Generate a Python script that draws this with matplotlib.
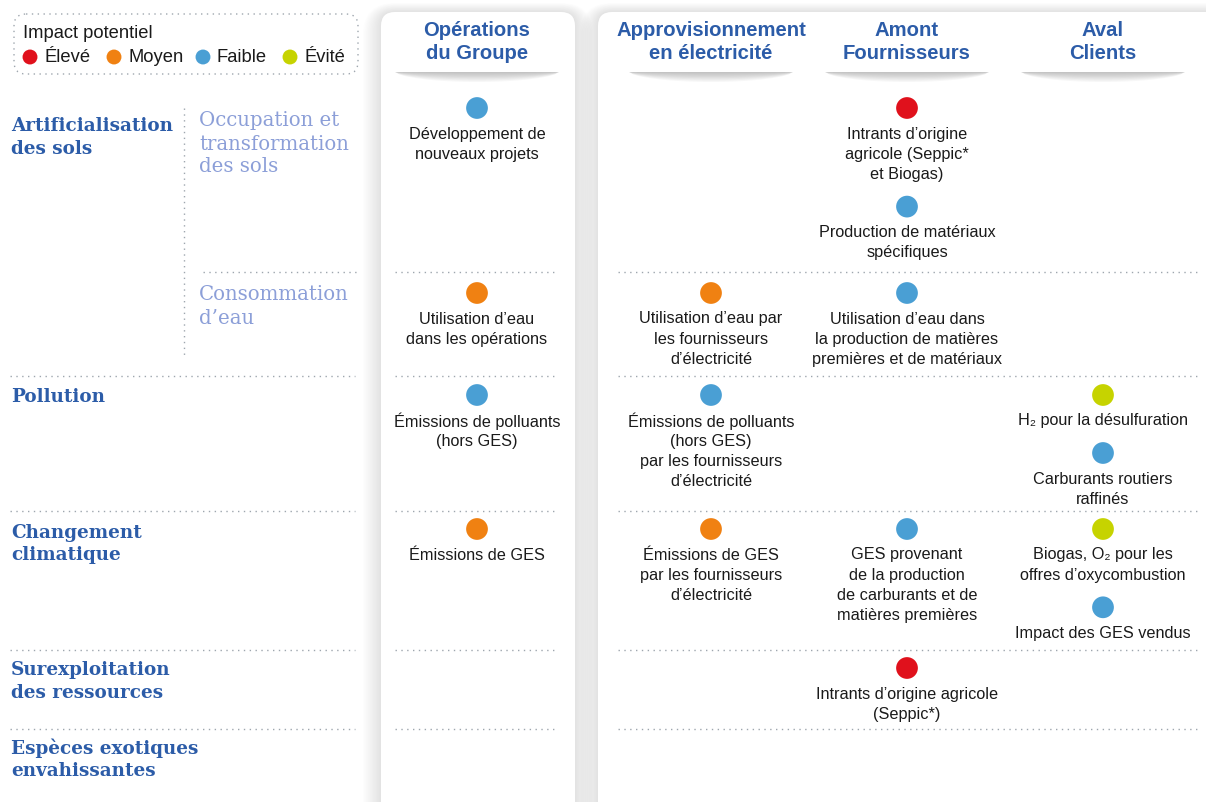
import matplotlib
matplotlib.use('Agg')
import matplotlib.pyplot as plt
from matplotlib.patches import FancyBboxPatch, Polygon

W, H = 1206, 802

# --- data ---------------------------------------------------------------
levels = ['Élevé', 'Moyen', 'Faible', 'Évité']
level_colors = ['#e0111c', '#f08112', '#4a9fd4', '#c6d300']

columns = ['Opérations\ndu Groupe', 'Approvisionnement\nen électricité',
           'Amont\nFournisseurs', 'Aval\nClients']

row_labels = ['Artificialisation\ndes sols', 'Pollution', 'Changement\nclimatique',
              'Surexploitation\ndes ressources', 'Espèces exotiques\nenvahissantes']
sub_labels = ['Occupation et\ntransformation\ndes sols', 'Consommation\nd’eau']

# band index: 0 occupation, 1 eau, 2 pollution, 3 climat, 4 surexploitation, 5 espèces
item_col = [0, 0, 0, 0,
            1, 1, 1,
            2, 2, 2, 2, 2,
            3, 3, 3, 3]
item_band = [0, 1, 2, 3,
             1, 2, 3,
             0, 0, 1, 3, 4,
             2, 2, 3, 3]
item_level = ['Faible', 'Moyen', 'Faible', 'Moyen',
              'Moyen', 'Faible', 'Moyen',
              'Élevé', 'Faible', 'Faible', 'Faible', 'Élevé',
              'Évité', 'Faible', 'Évité', 'Faible']
item_text = [
    'Développement de\nnouveaux projets',
    'Utilisation d’eau\ndans les opérations',
    'Émissions de polluants\n(hors GES)',
    'Émissions de GES',
    'Utilisation d’eau par\nles fournisseurs\nd’électricité',
    'Émissions de polluants\n(hors GES)\npar les fournisseurs\nd’électricité',
    'Émissions de GES\npar les fournisseurs\nd’électricité',
    'Intrants d’origine\nagricole (Seppic*\net Biogas)',
    'Production de matériaux\nspécifiques',
    'Utilisation d’eau dans\nla production de matières\npremières et de matériaux',
    'GES provenant\nde la production\nde carburants et de\nmatières premières',
    'Intrants d’origine agricole\n(Seppic*)',
    'H₂ pour la désulfuration',
    'Carburants routiers\nraffinés',
    'Biogas, O₂ pour les\noffres d’oxycombustion',
    'Impact des GES vendus',
]

# --- layout -------------------------------------------------------------
col_x = [477, 711, 907, 1103]
band_first_dot = [108, 293, 395, 529, 668, 747]
separators = [272, 376, 511, 650, 729]
row_label_y = [126, 397, 533, 670, 748]
sub_label_y = [121, 295]

BLUE = '#2c5ca8'
LIGHT = '#8c9fd8'
DOT = '#9ea6ae'
SANS = ['Liberation Sans', 'DejaVu Sans']
SERIF = ['DejaVu Serif']

fig = plt.figure(figsize=(W / 100, H / 100), dpi=100)
ax = fig.add_axes([0, 0, 1, 1])
ax.set_xlim(0, W)
ax.set_ylim(H, 0)
ax.axis('off')


def panel(x0, x1, y0):
    # soft shadow around the card
    for k in range(14):
        pad = 1.3 * (k + 1)
        ax.add_patch(FancyBboxPatch((x0 - pad, y0 - pad * 0.5), x1 - x0 + 2 * pad, H + 40,
                                    boxstyle='round,pad=0,rounding_size=%.1f' % (14 + pad),
                                    fc='#000000', ec='none', alpha=0.007, zorder=1))
    ax.add_patch(FancyBboxPatch((x0, y0), x1 - x0, H + 40,
                                boxstyle='round,pad=0,rounding_size=14',
                                fc='white', ec='none', zorder=2))


panel(381, 575, 12)
panel(598, 1240, 12)

# header shadows + titles
for cx, title in zip(col_x, columns):
    hw = 82
    for k in range(8):
        d = 10 * (1 - k / 8)
        pts = []
        for t in range(0, 41):
            u = t / 40
            xx = cx - hw + 2 * hw * u
            pts.append((xx, 72 + d * (1 - (2 * u - 1) ** 2) ** 0.6))
        ax.add_patch(Polygon(pts, closed=True, fc='#000000', ec='none', alpha=0.03, zorder=3))
    for i, line in enumerate(title.split('\n')):
        ax.text(cx, 31 + i * 22.5, line, ha='center', va='center', fontsize=14.6,
                fontweight='bold', color=BLUE, family=SANS, zorder=5)

# dotted separators
for j, y in enumerate(separators):
    left = (203, 358) if j == 0 else (10, 355)
    for a, b in [left, (395, 557), (618, 1197)]:
        ax.plot([a, b], [y, y], color=DOT, lw=1.0, ls=(0, (1, 3.2)), zorder=4)
ax.plot([184, 184], [108, 358], color=DOT, lw=1.0, ls=(0, (1, 3.2)), zorder=4)

# row labels
for lab, y in zip(row_labels, row_label_y):
    for i, line in enumerate(lab.split('\n')):
        ax.text(11, y + i * 22.5, line, ha='left', va='center', fontsize=13.2,
                fontweight='bold', color=BLUE, family=SERIF, zorder=5)
for lab, y in zip(sub_labels, sub_label_y):
    for i, line in enumerate(lab.split('\n')):
        ax.text(199, y + i * 23, line, ha='left', va='center', fontsize=14.2,
                color=LIGHT, family=SERIF, zorder=5)

# items, stacked inside each (column, band) cell
next_y = {}
for c, b, lev, txt in zip(item_col, item_band, item_level, item_text):
    y = next_y.get((c, b), band_first_dot[b])
    ax.scatter([col_x[c]], [y], s=245, color=level_colors[levels.index(lev)],
               edgecolors='none', zorder=6)
    lines = txt.split('\n')
    for i, line in enumerate(lines):
        ax.text(col_x[c], y + 26 + i * 20.3, line, ha='center', va='center',
                fontsize=11.7, color='#1a1a1a', family=SANS, zorder=6)
    next_y[(c, b)] = y + 26 + (len(lines) - 1) * 20.3 + 32

# legend
ax.add_patch(FancyBboxPatch((14, 14), 344, 60, boxstyle='round,pad=0,rounding_size=12',
                            fc='white', ec=DOT, lw=1.0, ls=(0, (1, 3.2)), zorder=4))
ax.text(23, 33, 'Impact potentiel', ha='left', va='center', fontsize=13.2,
        color='#1a1a1a', family=SANS, zorder=5)
leg_x = [30, 114, 203, 290]
for lx, lev, colr in zip(leg_x, levels, level_colors):
    ax.scatter([lx], [57], s=115, color=colr, edgecolors='none', zorder=5)
    ax.text(lx + 14, 57, lev, ha='left', va='center', fontsize=13.2,
            color='#1a1a1a', family=SANS, zorder=5)

fig.savefig('out.png', dpi=100)
